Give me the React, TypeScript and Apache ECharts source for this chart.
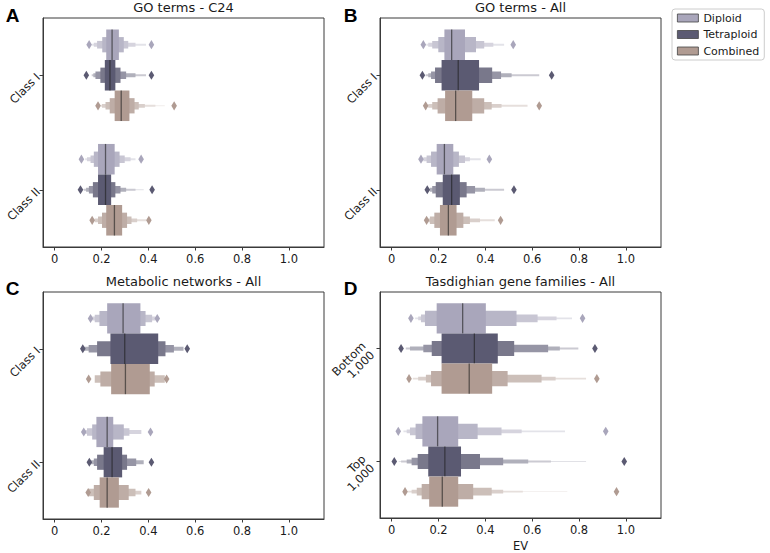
import React, { useEffect, useRef } from "react";
import * as echarts from "echarts";

type Box = { median: number; levels: number[][]; outliers: number[] };

const hueNames = ["Diploid", "Tetraploid", "Combined"];
const hueColors = ["#a9a6bb", "#5b5a72", "#b09b92"];
const classCategories = ["Class I", "Class II"];
const familyCategories = ["Bottom\n1,000", "Top\n1,000"];
const xTickValues = [0, 0.2, 0.4, 0.6, 0.8, 1.0];
const panelTitles = [
  "GO terms - C24",
  "GO terms - All",
  "Metabolic networks - All",
  "Tasdighian gene families - All",
];
const panelLetters = ["A", "B", "C", "D"];

// boxes[category][hue]; levels listed from innermost outward
const goC24Boxes: Box[][] = [
  [
    { median: 0.245, levels: [[0.22, 0.274], [0.203, 0.295], [0.181, 0.314], [0.167, 0.345], [0.16, 0.39]], outliers: [0.147, 0.413] },
    { median: 0.236, levels: [[0.214, 0.259], [0.195, 0.281], [0.174, 0.305], [0.165, 0.345], [0.158, 0.39]], outliers: [0.135, 0.413] },
    { median: 0.284, levels: [[0.256, 0.319], [0.235, 0.341], [0.217, 0.359], [0.202, 0.385], [0.197, 0.43], [0.193, 0.47]], outliers: [0.185, 0.51] },
  ],
  [
    { median: 0.217, levels: [[0.185, 0.256], [0.167, 0.277], [0.153, 0.299], [0.138, 0.324], [0.13, 0.345]], outliers: [0.114, 0.369] },
    { median: 0.217, levels: [[0.185, 0.241], [0.163, 0.259], [0.146, 0.281], [0.134, 0.305], [0.125, 0.345], [0.12, 0.38]], outliers: [0.11, 0.416] },
    { median: 0.255, levels: [[0.22, 0.288], [0.202, 0.309], [0.185, 0.328], [0.171, 0.352], [0.165, 0.39]], outliers: [0.16, 0.402] },
  ],
];

const goAllBoxes: Box[][] = [
  [
    { median: 0.256, levels: [[0.225, 0.313], [0.199, 0.36], [0.173, 0.395], [0.156, 0.434], [0.148, 0.48]], outliers: [0.135, 0.519] },
    { median: 0.284, levels: [[0.213, 0.373], [0.185, 0.429], [0.168, 0.467], [0.156, 0.512], [0.145, 0.63]], outliers: [0.131, 0.683] },
    { median: 0.273, levels: [[0.228, 0.344], [0.196, 0.395], [0.173, 0.427], [0.156, 0.469], [0.15, 0.58]], outliers: [0.145, 0.63] },
  ],
  [
    { median: 0.225, levels: [[0.192, 0.263], [0.168, 0.287], [0.149, 0.313], [0.135, 0.334], [0.13, 0.38]], outliers: [0.125, 0.417] },
    { median: 0.256, levels: [[0.218, 0.291], [0.188, 0.32], [0.173, 0.356], [0.163, 0.398], [0.158, 0.48]], outliers: [0.152, 0.522] },
    { median: 0.242, levels: [[0.206, 0.277], [0.182, 0.306], [0.163, 0.334], [0.156, 0.377], [0.152, 0.44]], outliers: [0.149, 0.465] },
  ],
];

const metabolicBoxes: Box[][] = [
  [
    { median: 0.292, levels: [[0.224, 0.366], [0.191, 0.388], [0.171, 0.416], [0.16, 0.43]], outliers: [0.153, 0.438] },
    { median: 0.299, levels: [[0.238, 0.442], [0.181, 0.473], [0.145, 0.509], [0.124, 0.55]], outliers: [0.12, 0.566] },
    { median: 0.302, levels: [[0.241, 0.406], [0.195, 0.427], [0.171, 0.47]], outliers: [0.145, 0.478] },
  ],
  [
    { median: 0.224, levels: [[0.178, 0.25], [0.16, 0.295], [0.138, 0.319], [0.13, 0.37]], outliers: [0.124, 0.409] },
    { median: 0.245, levels: [[0.209, 0.288], [0.181, 0.309], [0.167, 0.348], [0.155, 0.38]], outliers: [0.148, 0.413] },
    { median: 0.224, levels: [[0.192, 0.274], [0.167, 0.316], [0.145, 0.345], [0.143, 0.37]], outliers: [0.143, 0.401] },
  ],
];

const familyBoxes: Box[][] = [
  [
    { median: 0.303, levels: [[0.192, 0.402], [0.142, 0.533], [0.125, 0.623], [0.113, 0.704], [0.1, 0.77]], outliers: [0.082, 0.815] },
    { median: 0.353, levels: [[0.213, 0.453], [0.171, 0.523], [0.135, 0.668], [0.078, 0.718], [0.06, 0.797]], outliers: [0.04, 0.868] },
    { median: 0.331, levels: [[0.213, 0.429], [0.168, 0.495], [0.146, 0.64], [0.113, 0.7], [0.09, 0.83]], outliers: [0.074, 0.876] },
  ],
  [
    { median: 0.196, levels: [[0.131, 0.284], [0.102, 0.367], [0.078, 0.469], [0.064, 0.555], [0.05, 0.74]], outliers: [0.028, 0.914] },
    { median: 0.227, levels: [[0.156, 0.296], [0.111, 0.377], [0.085, 0.476], [0.064, 0.583], [0.04, 0.68], [0.03, 0.83]], outliers: [0.011, 0.993] },
    { median: 0.216, levels: [[0.16, 0.284], [0.128, 0.348], [0.107, 0.427], [0.085, 0.476], [0.07, 0.56], [0.06, 0.75]], outliers: [0.057, 0.96] },
  ],
];

const panelBoxes = [goC24Boxes, goAllBoxes, metabolicBoxes, familyBoxes];
const panelCategories = [classCategories, classCategories, classCategories, familyCategories];

const grids = [
  { left: 43, top: 18, width: 281, height: 229 },
  { left: 380, top: 18, width: 281, height: 229 },
  { left: 43, top: 292, width: 281, height: 227 },
  { left: 380, top: 292, width: 281, height: 227 },
];

const lightenSteps = [0, 0.18, 0.36, 0.52, 0.68, 0.82];
const FONT = "DejaVu Sans";

function mixWhite(hex: string, f: number) {
  const n = parseInt(hex.slice(1), 16);
  const r = (n >> 16) & 255, g = (n >> 8) & 255, b = n & 255;
  const m = (c: number) => Math.round(c + (255 - c) * f);
  return `rgb(${m(r)},${m(g)},${m(b)})`;
}

export default function App() {
  const ref = useRef<HTMLDivElement>(null);
  useEffect(() => {
    if (!ref.current) return;
    const chart = echarts.init(ref.current, null, { renderer: "svg" });

    const series: any[] = [];
    panelBoxes.forEach((boxes, p) => {
      hueNames.forEach((name, h) => {
        const color = hueColors[h];
        series.push({
          type: "custom",
          name,
          xAxisIndex: p,
          yAxisIndex: p,
          itemStyle: { color },
          encode: { x: 0, y: 1 },
          data: boxes.map((row, ci) => [row[h].median, ci]),
          renderItem: (params: any, api: any) => {
            const ci = params.dataIndex;
            const b = boxes[ci][h];
            const band = api.size([0, 1])[1];
            const hueW = (band * 0.8) / 3;
            const yc = api.coord([0, ci])[1] + (h - 1) * hueW;
            const children: any[] = [];
            for (let i = b.levels.length - 1; i >= 0; i--) {
              const [lo, hi] = b.levels[i];
              const x0 = api.coord([lo, ci])[0];
              const x1 = api.coord([hi, ci])[0];
              const hh = hueW * Math.pow(0.5, i);
              children.push({
                type: "rect",
                shape: { x: x0, y: yc - hh / 2, width: x1 - x0, height: hh },
                style: { fill: mixWhite(color, lightenSteps[Math.min(i, lightenSteps.length - 1)]) },
              });
            }
            const xm = api.coord([b.median, ci])[0];
            children.push({
              type: "line",
              shape: { x1: xm, y1: yc - hueW / 2, x2: xm, y2: yc + hueW / 2 },
              style: { stroke: "rgba(30,30,30,0.6)", lineWidth: 1.3 },
            });
            b.outliers.forEach((v) => {
              const xo = api.coord([v, ci])[0];
              children.push({
                type: "polygon",
                shape: { points: [[xo, yc - 4.6], [xo + 2.8, yc], [xo, yc + 4.6], [xo - 2.8, yc]] },
                style: { fill: color },
              });
            });
            return { type: "group", children };
          },
        });
      });
    });

    const graphic: any[] = [];
    const letterPos = [[12.5, 15], [350.5, 15], [12.5, 288], [350.5, 288]];
    panelTitles.forEach((t, p) => {
      const g = grids[p];
      graphic.push({
        type: "text",
        x: g.left + g.width / 2,
        y: g.top - 10.5,
        style: { text: t, align: "center", verticalAlign: "middle", fontSize: 13, fontFamily: FONT, fill: "#1a1a1a" },
      });
      graphic.push({
        type: "text",
        x: letterPos[p][0],
        y: letterPos[p][1],
        style: { text: panelLetters[p], align: "center", verticalAlign: "middle", fontSize: 19, fontWeight: "bold", fontFamily: "Liberation Sans", fill: "#000" },
      });
    });

    chart.setOption({
      animation: false,
      backgroundColor: "#ffffff",
      grid: grids.map((g) => ({ ...g, show: true, borderColor: "#3a3a3a", borderWidth: 1, backgroundColor: "transparent", containLabel: false })),
      xAxis: grids.map((_, p) => ({
        type: "value",
        gridIndex: p,
        min: -0.05,
        max: 1.15,
        name: p === 3 ? "EV" : "",
        nameLocation: "middle",
        nameGap: 22,
        nameTextStyle: { fontSize: 11.5, fontFamily: FONT, color: "#1a1a1a", verticalAlign: "top" },
        axisLine: { show: true, onZero: false, lineStyle: { color: "#3a3a3a", width: 1 } },
        splitLine: { show: false },
        axisTick: { show: true, length: 3.5, lineStyle: { color: "#3a3a3a" }, customValues: xTickValues },
        axisLabel: {
          customValues: xTickValues,
          formatter: (v: number) => (v === 0 ? "0" : v.toFixed(1)),
          fontSize: 11.5,
          fontFamily: FONT,
          color: "#1a1a1a",
          margin: 6,
        },
      })),
      yAxis: grids.map((_, p) => ({
        type: "category",
        gridIndex: p,
        data: panelCategories[p],
        inverse: true,
        boundaryGap: true,
        axisLine: { show: true, onZero: false, lineStyle: { color: "#3a3a3a", width: 1 } },
        axisTick: { show: true, alignWithLabel: true, length: 3.5, lineStyle: { color: "#3a3a3a" } },
        splitLine: { show: false },
        axisLabel: {
          rotate: 45,
          fontSize: 11.5,
          fontFamily: FONT,
          color: "#1a1a1a",
          margin: p === 3 ? 12 : 5,
          lineHeight: 12.5,
          align: "right",
          verticalAlign: "middle",
        },
      })),
      legend: {
        data: hueNames,
        orient: "vertical",
        left: 672,
        top: 9,
        icon: "rect",
        itemWidth: 21,
        itemHeight: 8,
        itemGap: 4.5,
        padding: [3, 5, 3, 5],
        borderColor: "#cccccc",
        borderWidth: 1,
        borderRadius: 3,
        backgroundColor: "#ffffff",
        selectedMode: false,
        itemStyle: { borderColor: "#444", borderWidth: 0.8 },
        textStyle: { fontSize: 11, fontFamily: FONT, color: "#1a1a1a", lineHeight: 12 },
      },
      graphic,
      series,
    });
    return () => chart.dispose();
  }, []);
  return <div ref={ref} style={{ position: "fixed", left: 0, top: 0, width: 770, height: 553 }} />;
}
